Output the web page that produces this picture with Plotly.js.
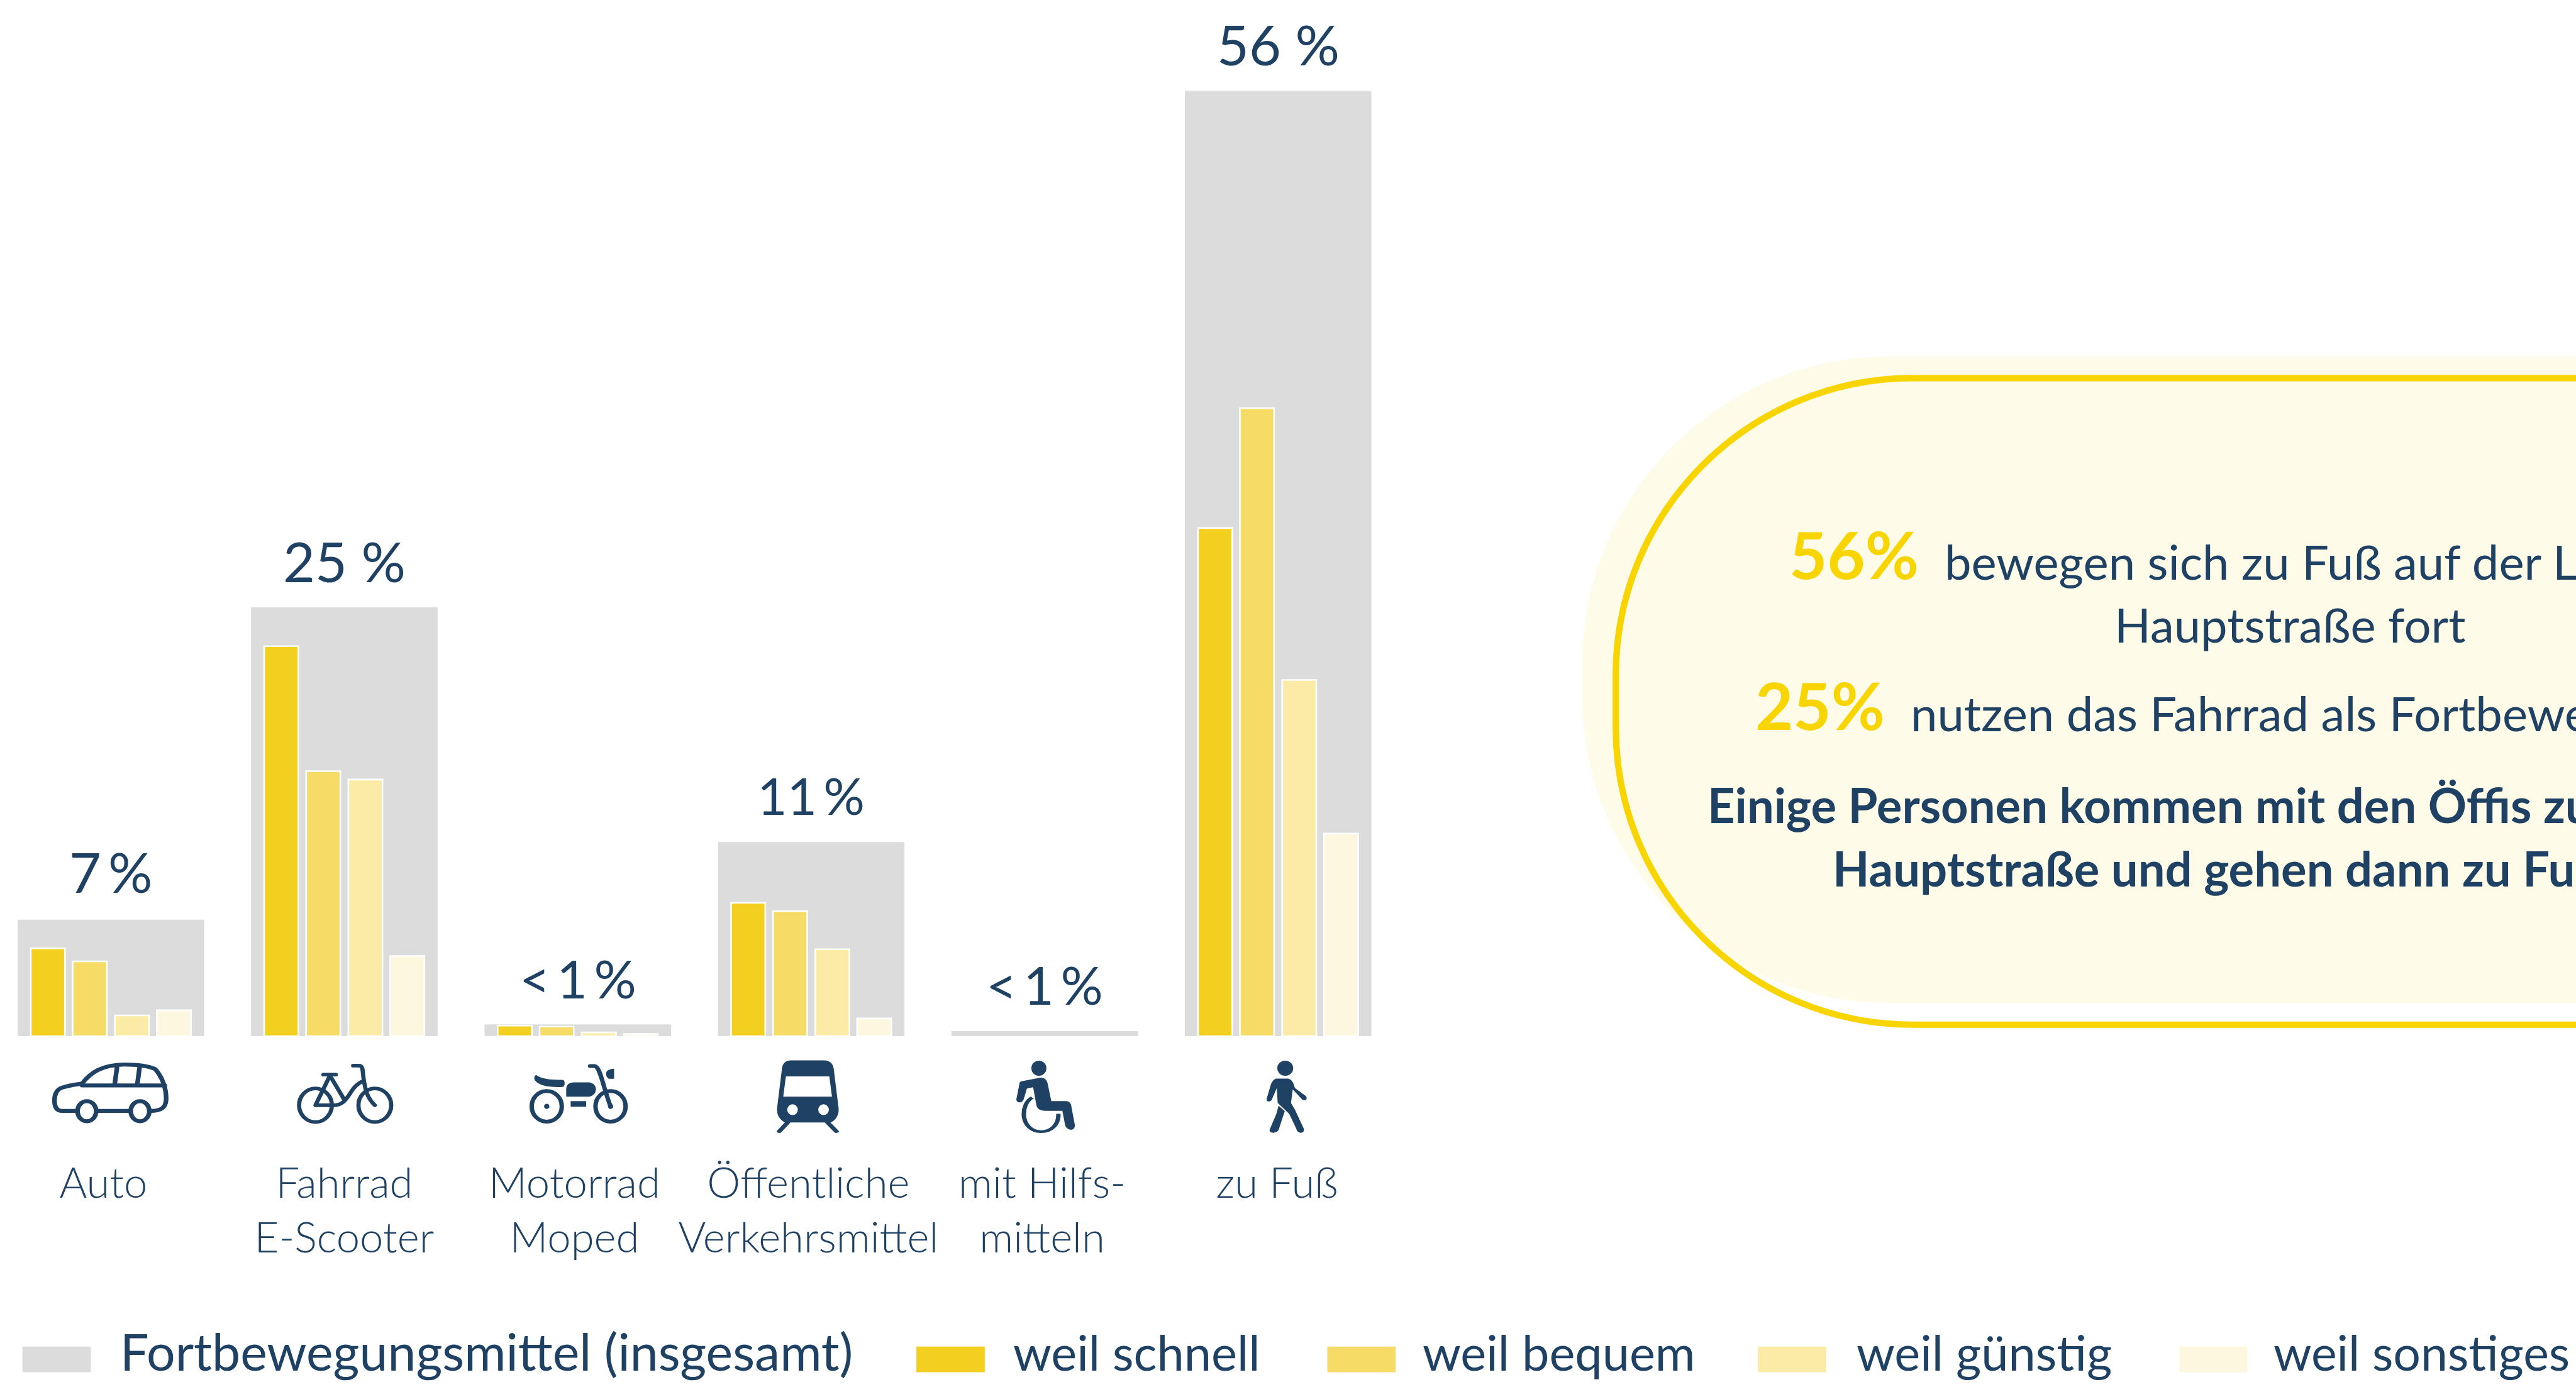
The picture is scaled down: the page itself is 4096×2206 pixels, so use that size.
<!DOCTYPE html>
<html><head><meta charset="utf-8">
<script src="https://cdn.plot.ly/plotly-3.0.1.min.js"></script>
<style>html,body{margin:0;padding:0;background:#fff;overflow:hidden}</style>
</head><body><div id="chart" style="width:4096px;height:2206px"></div>
<script>
// ---- data ----
const categories = ["Auto","Fahrrad<br>E-Scooter","Motorrad<br>Moped","Öffentliche<br>Verkehrsmittel","mit Hilfs-<br>mitteln","zu Fuß"];
const barLabels  = ["7\u2009%","25 %","<\u20091\u2009%","11\u2009%","<\u20091\u2009%","56 %"];
const total      = [6.9,25.4,0.7,11.5,0.3,56];
const schnell    = [5.2,23.1,0.63,7.9,null,30.1];
const bequem     = [4.43,15.7,0.57,7.4,null,37.2];
const guenstig   = [1.23,15.2,0.22,5.15,null,21.1];
const sonstiges  = [1.53,4.75,0.13,1.05,null,12];
const legendNames  = ["Fortbewegungsmittel (insgesamt)","weil schnell","weil bequem","weil günstig","weil sonstiges"];
const legendColors = ["#DCDCDC","#F3CF1F","#F6DC67","#FBEBA7","#FDF7DF"];
// ---- geometry helpers (reference pixels) ----
const W=4821,H=2596,BASE=1939,S=4096/4821,UNIT=31.59,C0=207.5,PITCH=436.9;
const NAVY="#1F4163",YEL="#F8D400",FONT="Lato, sans-serif";
const px=x=>x/W, py=y=>(BASE-y)/BASE;
const xi=categories.map((_,i)=>i);
const sub=(name,vals,color,off)=>({type:"bar",name,x:xi,y:vals,width:0.1465,offset:off-0.07325,
  marker:{color,line:{color:"#fff",width:2.6}},hoverinfo:"skip",showlegend:false});
const traces=[
 {type:"bar",name:"Fortbewegungsmittel (insgesamt)",x:xi,y:total,width:0.799,marker:{color:legendColors[0]},hoverinfo:"skip",showlegend:false},
 sub("weil schnell",schnell,legendColors[1],-0.27),
 sub("weil bequem",bequem,legendColors[2],-0.0904),
 sub("weil günstig",guenstig,legendColors[3],0.0904),
 sub("weil sonstiges",sonstiges,legendColors[4],0.27),
];
// text helper: baseline y in reference px
function txt(x,yb,text,size,color,weight,anchor){
  return {xref:"paper",yref:"paper",x:px(x),y:py(yb+size/S*0.215),xanchor:anchor||"left",yanchor:"bottom",
   text,showarrow:false,align:"center",borderpad:0,font:{family:FONT,size,color,weight:weight||400}};
}
const annotations=[];
const labelBase=[1672,1091,1870,1525,1881,124];
const labelSize=[88,88,84,82,84,88];
barLabels.forEach((t,i)=>{
  annotations.push(txt(C0+i*PITCH,labelBase[i],t,labelSize[i],NAVY,400,"center"));
});
// panel text
annotations.push(
 txt(3347,1084,"56%",104,YEL,700),
 txt(3638,1086,"bewegen sich zu Fuß auf der Landstraße /",76,NAVY,400),
 txt(4285,1203,"Hauptstraße fort",76,NAVY,400,"center"),
 txt(3284,1367,"25%",104,YEL,700),
 txt(3574,1369,"nutzen das Fahrrad als Fortbewegungsmittel",76,NAVY,400),
 txt(3194,1541,"Einige Personen kommen mit den Öffis zur Landstraße /",76,NAVY,700),
 txt(3429,1660,"Hauptstraße und gehen dann zu Fuß",76,NAVY,700)
);
// legend
const swX=[[42,170],[1715,1843],[2484,2612],[3290,3418],[4079,4206]];
const lgX=[224,1895,2661,3473,4254];
const lgSize=[80.6,77.5,77.5,77.5,77];
const shapes=[];
function rounded(l,t,b,r,right){const k=r*0.5523;
 const P=(x,y)=>px(x)+" "+py(y);
 return "M "+P(right,t)+" L "+P(l+r,t)+" C "+P(l+r-k,t)+" "+P(l,t+r-k)+" "+P(l,t+r)+" L "+P(l,b-r)+" C "+P(l,b-r+k)+" "+P(l+r-k,b)+" "+P(l+r,b)+" L "+P(right,b);}
shapes.push({type:"path",xref:"paper",yref:"paper",layer:"below",path:rounded(2961,667,1877,576,4900)+" Z",fillcolor:"#FEFBE8",line:{width:0}});
shapes.push({type:"path",xref:"paper",yref:"paper",layer:"below",path:rounded(3024,707.5,1917.5,556,4900),fillcolor:"rgba(0,0,0,0)",line:{color:YEL,width:12*S}});
legendNames.forEach((n,i)=>{
  shapes.push({type:"rect",xref:"paper",yref:"paper",x0:px(swX[i][0]),x1:px(swX[i][1]),y0:py(2520),y1:py(2568),fillcolor:legendColors[i],line:{width:0}});
  annotations.push(txt(lgX[i],2566,n,lgSize[i],NAVY,400));
});
// icons : viewBox uses zoom-crop coordinates
const N=NAVY;
const svg=(vb,inner)=>"data:image/svg+xml;charset=utf-8,"+encodeURIComponent(
 `<svg xmlns="http://www.w3.org/2000/svg" width="${vb[2]}" height="${vb[3]}" viewBox="${vb.join(" ")}" preserveAspectRatio="none">${inner}</svg>`);
const icons=[
 {vb:[115,695,270,170],ox:0,oy:1500,fx:1.206,fy:1.4307,body:`<g fill="none" stroke="${N}" stroke-width="10.5" stroke-linecap="round" stroke-linejoin="round"><path d="M172 828H140C126 828 123 815 123 800C123 785 128 770 140 766C155 760 170 758 185 755C205 725 230 705 280 704C310 704 335 708 350 716C365 735 375 765 375 795C375 815 368 828 342 828"/><path d="M222 828H292"/><ellipse cx="196" cy="829" rx="21" ry="27"/><ellipse cx="316" cy="829" rx="21" ry="27"/><path d="M185 760H372M264 712L259 756M315 712L310 756"/></g>`},
 {vb:[665,695,230,175],ox:0,oy:1500,fx:1.206,fy:1.4307,body:`<g fill="none" stroke="${N}" stroke-width="9.5" stroke-linecap="round" stroke-linejoin="round"><ellipse cx="712" cy="813" rx="37" ry="45"/><ellipse cx="846" cy="813" rx="37" ry="45"/><path d="M730 731H758M745 733L712 813H752C790 813 785 765 820 748M748 740L778 800M797 707H810C820 707 818 720 821 745C825 775 830 795 846 813"/></g>`},
 {vb:[1190,695,235,175],ox:0,oy:1500,fx:1.206,fy:1.4307,body:`<g fill="none" stroke="${N}" stroke-width="10" stroke-linecap="round" stroke-linejoin="round"><ellipse cx="1234" cy="816" rx="34" ry="41"/><ellipse cx="1378" cy="816" rx="34" ry="41"/><path d="M1332 708H1342C1355 710 1360 760 1378 816"/></g><g fill="${N}"><ellipse cx="1234" cy="816" rx="6" ry="7"/><ellipse cx="1378" cy="816" rx="6" ry="7"/><path d="M1210 732C1225 745 1250 745 1270 745C1276 745 1276 764 1270 764C1240 766 1215 760 1207 746C1205 738 1206 734 1210 732Z"/><path d="M1278 770C1278 758 1285 752 1295 752H1330C1350 755 1350 786 1330 790H1278Z"/><rect x="1288" y="802" width="35" height="15"/><path d="M1368 728C1368 720 1375 716 1386 715V742H1374C1370 740 1368 735 1368 728Z"/></g>`},
 {vb:[175,355,160,285],ox:1300,oy:1800,fx:1.206,fy:1.97,body:`<path fill="${N}" d="M218 363H292C308 363 313 380 314 395L325 540C326 565 320 580 308 592H204C190 580 185 560 186 540L197 395C198 375 205 363 218 363Z"/><path fill="#fff" d="M206 422H304L310 497H200Z"/><ellipse fill="#fff" cx="221" cy="545" rx="12" ry="20"/><ellipse fill="#fff" cx="291" cy="545" rx="12" ry="20"/><path fill="none" stroke="${N}" stroke-width="11" stroke-linecap="round" d="M210 592L191 625M300 592L320 625"/>`},
 {vb:[715,355,155,285],ox:1300,oy:1800,fx:1.206,fy:1.97,body:`<g fill="${N}"><ellipse cx="777" cy="392" rx="17" ry="28"/><path d="M738 440L780 427C790 426 795 435 797 450L805 513H838C845 513 849 520 850 530L858 600C860 625 840 625 836 600L830 549H790C775 549 772 535 771 525L764 462L750 467L743 505C740 525 722 520 727 500L733 450C733 443 735 441 738 440Z"/></g><path fill="none" stroke="${N}" stroke-width="10" d="M762 500C748 512 743 540 743 560C743 600 760 626 782 626C805 626 822 600 821 560"/>`},
 {vb:[1280,355,110,285],ox:1300,oy:1800,fx:1.206,fy:1.97,body:`<g fill="${N}"><ellipse cx="1333" cy="392" rx="18" ry="28"/><path d="M1312 430H1340C1350 435 1352 450 1355 465L1380 495C1385 510 1375 515 1370 505L1350 470L1346 520L1355 545L1375 615C1378 635 1360 635 1358 615L1342 560L1316 520L1314 465L1302 510C1296 518 1288 515 1292 500L1300 455C1303 440 1308 432 1312 430Z"/><path d="M1318 530L1332 550L1318 620C1312 635 1295 632 1298 618L1313 560Z"/></g>`},
];
const images=icons.map(ic=>{
  const x=ic.ox+ic.vb[0]/ic.fx,y=ic.oy+ic.vb[1]/ic.fy,w=ic.vb[2]/ic.fx,h=ic.vb[3]/ic.fy;
  return {source:svg(ic.vb,ic.body),xref:"paper",yref:"paper",x:px(x),y:py(y),sizex:w/W,sizey:h/BASE,xanchor:"left",yanchor:"top",sizing:"stretch",layer:"above"};
});
const labelPos=[-0.032,0,-0.014,-0.012,-0.011,-0.005].map((d,i)=>i+d);
const layout={
 width:4096,height:2206,margin:{l:0,r:0,t:0,b:(H-BASE)*S,pad:0,autoexpand:false},
 paper_bgcolor:"#fff",plot_bgcolor:"rgba(0,0,0,0)",barmode:"overlay",showlegend:false,
 xaxis:{type:"linear",range:[-C0/PITCH,(W-C0)/PITCH],tickmode:"array",tickvals:labelPos,ticktext:categories,
   ticks:"",showgrid:false,zeroline:false,showline:false,fixedrange:true,ticklabelstandoff:189,tickangle:0,
   tickfont:{family:FONT,size:67,color:NAVY,weight:300}},
 yaxis:{range:[0,BASE/UNIT],visible:false,fixedrange:true},
 shapes,annotations,images
};
Plotly.newPlot("chart",traces,layout,{staticPlot:true,displayModeBar:false});
</script></body></html>
